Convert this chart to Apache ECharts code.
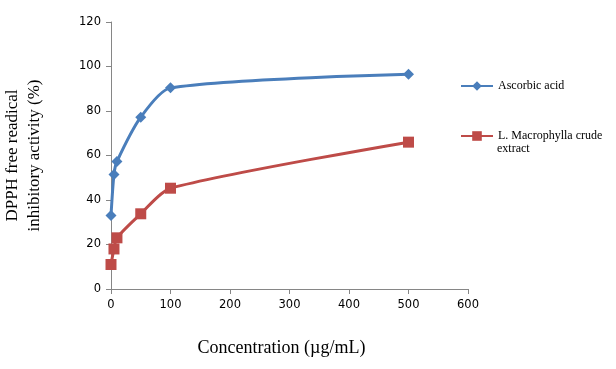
<!DOCTYPE html>
<html><head><meta charset="utf-8">
<script src="https://cdn.jsdelivr.net/npm/echarts@6/dist/echarts.min.js"></script>
<style>html,body{margin:0;padding:0;background:#fff}#c{width:616px;height:369px}</style>
</head><body><div id="c"></div>
<script>
const seriesNames = ["Ascorbic acid", "L. Macrophylla crude extract"];
const ascorbicX = [0, 5, 10, 50, 100, 500];
const ascorbicY = [33, 51.5, 57.3, 77.2, 90.4, 96.5];
const extractX = [0, 5, 10, 50, 100, 500];
const extractY = [11, 18, 23, 33.8, 45.3, 66];
const xTicks = [0, 100, 200, 300, 400, 500, 600];
const yTicks = [0, 20, 40, 60, 80, 100, 120];

const chart = echarts.init(document.getElementById('c'), null, {renderer: 'canvas'});
const axisLine = {show: true, lineStyle: {color: '#868686', width: 1}};
chart.setOption({
  animation: false,
  grid: {left: 111, right: 148, top: 22, bottom: 80, containLabel: false, outerBoundsMode: 'none'},
  xAxis: {
    type: 'value', min: xTicks[0], max: xTicks[xTicks.length-1], interval: 100,
    axisLine: axisLine, axisTick: {show: true, length: 5, lineStyle: {color: '#868686'}},
    splitLine: {show: false},
    axisLabel: {color: '#000', fontFamily: 'DejaVu Sans', fontSize: 11.5, margin: 10},
    name: 'Concentration (\u00b5g/mL)', nameLocation: 'middle', nameGap: 50,
    nameTextStyle: {color: '#000', fontFamily: 'Liberation Serif', fontSize: 18, padding: [0, 16, 0, 0]}
  },
  yAxis: {
    type: 'value', min: yTicks[0], max: yTicks[yTicks.length-1], interval: 20,
    axisLine: axisLine, axisTick: {show: true, length: 5, lineStyle: {color: '#868686'}},
    splitLine: {show: false},
    axisLabel: {color: '#000', fontFamily: 'DejaVu Sans', fontSize: 11.5, margin: 10},
    name: 'DPPH free readical\ninhibitory activity (%)', nameLocation: 'middle', nameGap: 65,
    nameTextStyle: {color: '#000', fontFamily: 'Liberation Serif', fontSize: 17, lineHeight: 22}
  },
  legend: [
    {data: [seriesNames[0]], left: 455, top: 75, itemWidth: 32, itemHeight: 12,
     textStyle: {fontFamily: 'Liberation Serif', fontSize: 12, color: '#000'}},
    {data: [seriesNames[1]], left: 455, top: 125, itemWidth: 32, itemHeight: 12,
     formatter: () => 'L. Macrophylla crude',
     textStyle: {fontFamily: 'Liberation Serif', fontSize: 12, color: '#000'}}
  ],
  graphic: [
    {type: 'text', left: 497, top: 143,
     style: {text: 'extract', fontFamily: 'Liberation Serif', fontSize: 12, fill: '#000'}}
  ],
  series: [
    {name: seriesNames[0], type: 'line', smooth: 0.25, symbol: 'diamond', symbolSize: 11,
     data: ascorbicX.map((x, i) => [x, ascorbicY[i]]),
     itemStyle: {color: '#4A7EBB'}, lineStyle: {color: '#4A7EBB', width: 3}},
    {name: seriesNames[1], type: 'line', smooth: 0.25, symbol: 'rect', symbolSize: 11,
     data: extractX.map((x, i) => [x, extractY[i]]),
     itemStyle: {color: '#BE4B48'}, lineStyle: {color: '#BE4B48', width: 3}}
  ]
});
</script></body></html>
